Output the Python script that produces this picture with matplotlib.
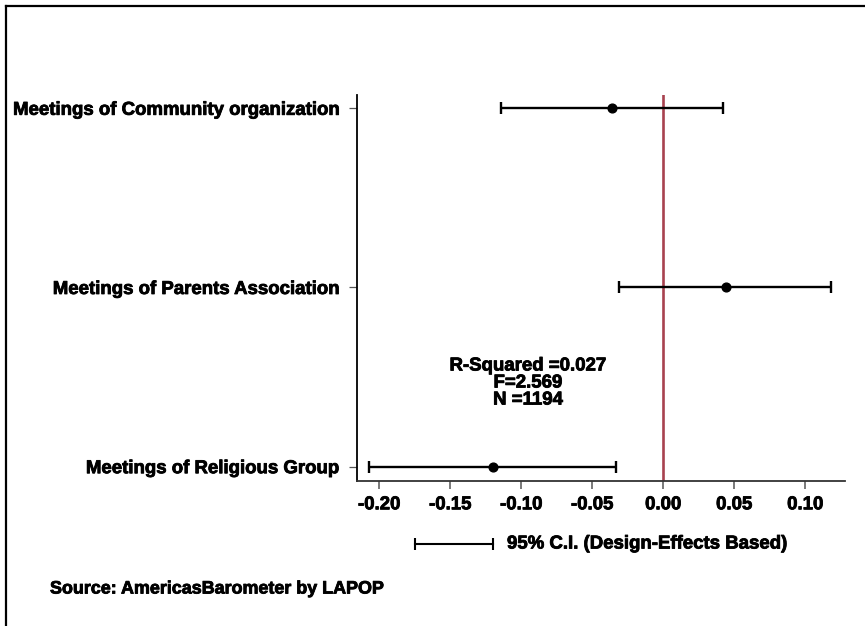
import numpy as np
import matplotlib
matplotlib.use("Agg")
import matplotlib.pyplot as plt
from matplotlib.lines import Line2D
import matplotlib.patheffects as pe

# coefficients and 95% confidence intervals
labels = ['Meetings of Religious Group', 'Meetings of Parents Association',
          'Meetings of Community organization']
coef = [-0.120, 0.044, -0.036]
ci_low = [-0.207, -0.031, -0.114]
ci_high = [-0.033, 0.118, 0.042]
xticks = [-0.20, -0.15, -0.10, -0.05, 0.00, 0.05, 0.10]
stats_lines = ['R-Squared =0.027', 'F=2.569', 'N =1194']

plt.rcParams['font.family'] = ['Liberation Sans', 'DejaVu Sans']
plt.rcParams['font.weight'] = 'bold'
fs = 13.4
heavy = [pe.withStroke(linewidth=0.6, foreground='black')]

fig = plt.figure(figsize=(8.65, 6.26), dpi=100)
ax = fig.add_axes([0.4124, 0.2316, 0.5645, 0.6166])

ypos = np.arange(1, len(labels) + 1)
coef = np.array(coef)
err = [coef - np.array(ci_low), np.array(ci_high) - coef]

ax.axvline(0, color='#a8424f', lw=1.9, zorder=1)
ax.errorbar(coef, ypos, xerr=err, fmt='o', color='black', ecolor='black',
            elinewidth=1.7, capsize=4.5, capthick=1.7, markersize=6.3, zorder=3)

ax.set_xlim(-0.2159, 0.128)
ax.set_ylim(0.92, 3.074)
ax.set_yticks(ypos)
ax.set_yticklabels(labels, fontsize=fs, fontweight='bold')
ax.set_xticks(xticks)
ax.set_xticklabels(['%.2f' % t for t in xticks], fontsize=fs, fontweight='bold')
for lab in ax.get_xticklabels() + ax.get_yticklabels():
    lab.set_path_effects(heavy)

for s in ['top', 'right']:
    ax.spines[s].set_visible(False)
ax.spines['left'].set_linewidth(1.3)
ax.spines['bottom'].set_linewidth(1.3)
ax.spines['bottom'].set_color('#333333')
ax.tick_params(axis='y', length=6, width=0.9, color='#555555', pad=7)
ax.tick_params(axis='x', length=6, width=1.1, color='#555555', pad=5)

# fit statistics
for i, line in enumerate(stats_lines):
    ax.text(-0.0953, 1.562 - 0.095 * i, line, ha='center', va='center',
            fontsize=fs, fontweight='bold', path_effects=heavy)

# legend: CI bar sample with caps
W, H = 865.0, 626.0
fig.add_artist(Line2D([415 / W, 493 / W], [1 - 544 / H, 1 - 544 / H],
                      color='black', lw=1.5, marker='|', markersize=9,
                      markeredgewidth=1.5))
fig.text(507 / W, 1 - 544 / H, '95% C.I. (Design-Effects Based)',
         ha='left', va='center', fontsize=fs, fontweight='bold', path_effects=heavy)

fig.text(50 / W, 1 - 589 / H, 'Source: AmericasBarometer by LAPOP',
         ha='left', va='center', fontsize=fs - 0.5, fontweight='bold', path_effects=heavy)

# partial frame (top and left edges)
fig.add_artist(Line2D([6 / W, 1.0], [1 - 6 / H, 1 - 6 / H], color='black', lw=1.6))
fig.add_artist(Line2D([6 / W, 6 / W], [0.0, 1 - 6 / H], color='black', lw=1.6))

fig.savefig('out.png', dpi=100)
